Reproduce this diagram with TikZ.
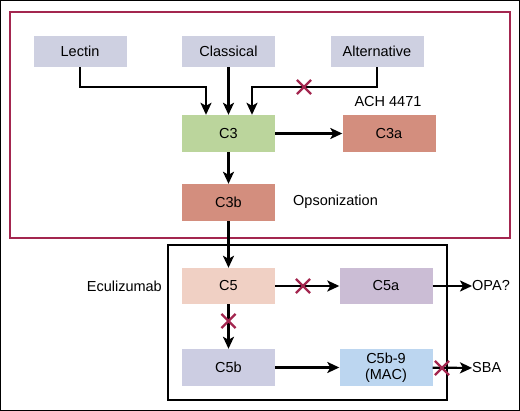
\documentclass[tikz,border=0pt]{standalone}
\usepackage{fontspec}
\setmainfont{Liberation Sans}
\usetikzlibrary{arrows.meta}
\usetikzlibrary{shapes.misc}
\definecolor{pathgrey}{HTML}{CED0E1}
\definecolor{cthreegreen}{HTML}{BBD59C}
\definecolor{salmon}{HTML}{D38E7E}
\definecolor{cfivepink}{HTML}{F0D0C4}
\definecolor{mauve}{HTML}{CBBDD5}
\definecolor{lavender}{HTML}{CCCDE2}
\definecolor{macblue}{HTML}{BCD6F0}
\definecolor{crimson}{HTML}{A3264F}

\begin{document}
\begin{tikzpicture}[x=1pt, y=-1pt,
    box/.style={minimum width=93pt, minimum height=37pt, inner sep=0pt, align=center,
      font=\fontsize{14.5}{16}\selectfont},
    lbl/.style={inner sep=0pt, font=\fontsize{14.5}{16}\selectfont},
    arr/.style={-{Stealth[length=12pt,width=11pt,inset=3pt]}, line width=2.2pt},
    xmark/.style={cross out, draw=crimson, line width=2.2pt, minimum size=12pt, inner sep=0pt}]
    \useasboundingbox (0,0) rectangle (520,411);
    \draw[line width=2.5pt] (0,0) rectangle (520,411);
    % frames
    \draw[crimson, line width=1.3pt] (10,12) rectangle (510,238);
    \draw[line width=1.4pt] (168,245) rectangle (447,400);
    % pathways
    \node[box, fill=pathgrey, minimum height=31pt] (lectin) at (80,51.5) {Lectin};
    \node[box, fill=pathgrey, minimum height=31pt] (classical) at (228.5,51.5) {Classical};
    \node[box, fill=pathgrey, minimum height=31pt] (alternative) at (377,51.5) {Alternative};
    \node[box, fill=cthreegreen] (c3) at (228.5,133.5) {C3};
    \node[box, fill=salmon] (c3a) at (389,133.5) {C3a};
    \node[box, fill=salmon] (c3b) at (228.5,202.5) {C3b};
    \node[box, fill=cfivepink, minimum height=36pt] (c5) at (228.5,286) {C5};
    \node[box, fill=mauve, minimum height=36pt] (c5a) at (386,286) {C5a};
    \node[box, fill=lavender] (c5b) at (228.5,367.5) {C5b};
    \node[box, fill=macblue] (c5b9) at (386,367.5) {C5b-9\\(MAC)};
    % labels
    \node[lbl] (ach) at (388,102) {ACH 4471};
    \node[lbl, anchor=west] (opso) at (293,202) {Opsonization};
    \node[lbl, anchor=east] (ecul) at (162,286) {Eculizumab};
    \node[lbl, anchor=west] (opa) at (472,286) {OPA?};
    \node[lbl, anchor=west] (sba) at (472,368) {SBA};
    % arrows
    \draw[arr] (lectin.south) -- ++(0,20) -| ([xshift=-22.5pt]c3.north);
    \draw[arr] (classical) -- (c3);
    \draw[arr] (alternative.south) -- ++(0,20) -| ([xshift=23.5pt]c3.north);
    \draw[arr] (c3) -- (c3a);
    \draw[arr] (c3) -- (c3b);
    \draw[arr] (c3b) -- (c5);
    \draw[arr] (c5) -- (c5a);
    \draw[arr] (c5) -- (c5b);
    \draw[arr] (c5a) -- (opa);
    \draw[arr] (c5b) -- (c5b9);
    \draw[arr] (c5b9) -- (sba);
    % blocks
    \node[xmark] (xalt) at (304,87) {};
    \node[xmark] (xcfivea) at (303,286) {};
    \node[xmark] (xcfiveb) at (228.5,321) {};
    \node[xmark] (xsba) at (442,368) {};
\end{tikzpicture}
\end{document}
